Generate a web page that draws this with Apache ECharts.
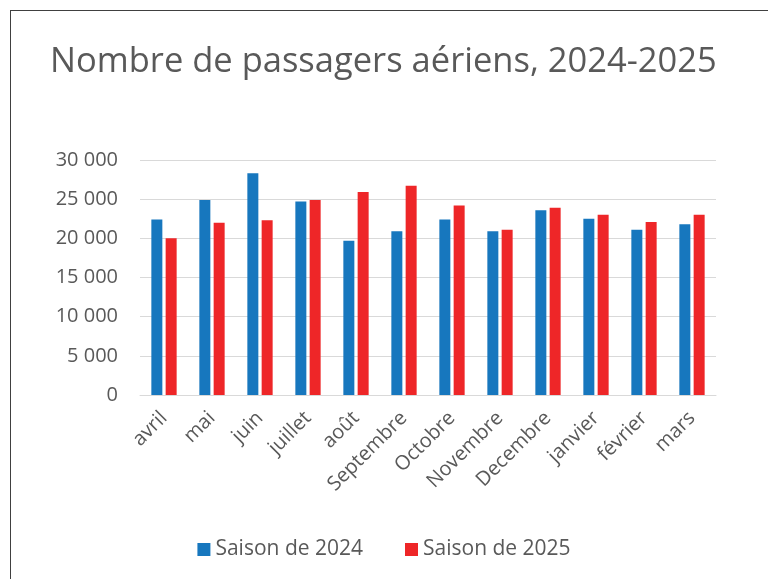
<!DOCTYPE html>
<html>
<head>
<meta charset="utf-8">
<script src="https://cdn.jsdelivr.net/npm/echarts@6/dist/echarts.min.js"></script>
<style>
	html, body { margin: 0; padding: 0; background: #fff; overflow: hidden; }
	#chart { position: absolute; left: 0; top: 0; width: 768px; height: 579px; }
	#frame { position: absolute; left: 10px; top: 10px; width: 800px; height: 600px; border: 1px solid #404040; pointer-events: none; }
</style>
</head>
<body>
<div id="chart"></div>
<div id="frame"></div>
<script>
var months = ['avril', 'mai', 'juin', 'juillet', 'août', 'Septembre', 'Octobre', 'Novembre', 'Decembre', 'janvier', 'février', 'mars'];
var saison2024 = [22400, 24900, 28300, 24700, 19700, 20900, 22400, 20900, 23600, 22500, 21100, 21800];
var saison2025 = [20000, 22000, 22300, 24900, 25900, 26700, 24200, 21100, 23900, 23000, 22100, 23000];
var seriesNames = ['Saison de 2024', 'Saison de 2025'];

var font = '"Open Sans", "Noto Sans", sans-serif';
var grey = '#595959';

var myChart = echarts.init(document.getElementById('chart'));
var option = {
	animation: false,
	color: ['#1777be', '#ee2628'],
	title: {
		text: 'Nombre de passagers aériens, 2024-2025',
		left: 45,
		top: 40,
		textStyle: { fontFamily: font, fontSize: 34.5, fontWeight: 'normal', color: grey }
	},
	legend: {
		data: seriesNames,
		bottom: 14,
		left: 'center',
		itemWidth: 13,
		itemHeight: 13,
		itemGap: 42,
		icon: 'rect',
		textStyle: { fontFamily: font, fontSize: 21, color: grey }
	},
	grid: { left: 140, right: 52, top: 160, bottom: 184 },
	xAxis: {
		type: 'category',
		data: months,
		axisLine: { lineStyle: { color: '#d9d9d9', width: 1 } },
		axisTick: { show: false },
		axisLabel: { rotate: 45, fontFamily: font, fontSize: 20, color: grey, margin: 20, interval: 0 }
	},
	yAxis: {
		type: 'value',
		min: 0,
		max: 30000,
		interval: 5000,
		axisLine: { show: false },
		axisTick: { show: false },
		splitLine: { lineStyle: { color: '#d9d9d9', width: 1 } },
		axisLabel: {
			fontFamily: font, fontSize: 20, color: grey, margin: 22,
			formatter: function (v) { return String(v).replace(/\B(?=(\d{3})+(?!\d))/g, ' '); }
		}
	},
	series: [
		{ name: seriesNames[0], type: 'bar', data: saison2024, barWidth: 11, barGap: '30%' },
		{ name: seriesNames[1], type: 'bar', data: saison2025, barWidth: 11, barGap: '30%' }
	]
};
myChart.setOption(option);
</script>
</body>
</html>
